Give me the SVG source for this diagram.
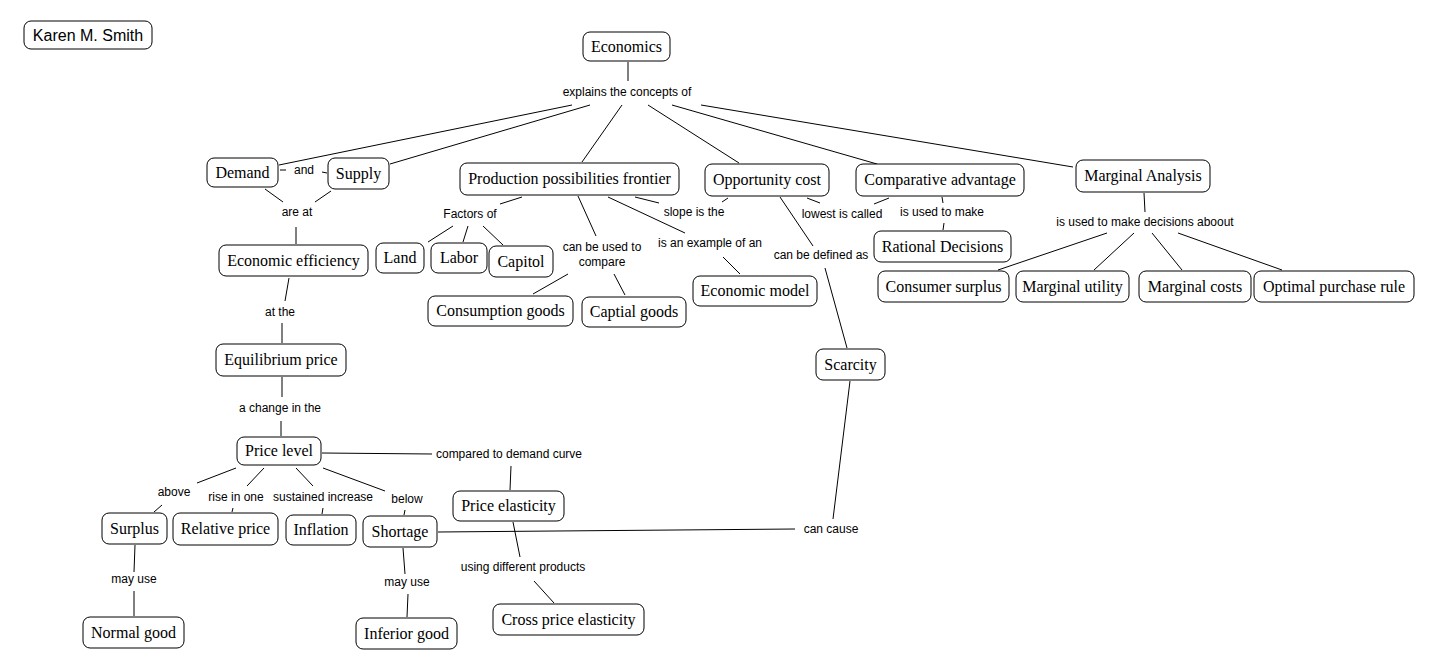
<svg xmlns="http://www.w3.org/2000/svg" width="1434" height="671" viewBox="0 0 1434 671">
<style>
.n rect{fill:#fff;stroke:#000;stroke-width:1}
.n text{font-family:"Liberation Serif","Times New Roman",serif;font-size:16px;text-anchor:middle;fill:#000}
.k text{font-family:"Liberation Sans",Arial,sans-serif;font-size:16px}
.c line{stroke:#000;stroke-width:1}
.c text{font-family:"Liberation Sans",Arial,sans-serif;font-size:12px;text-anchor:middle;fill:#000}
</style>
<rect width="1434" height="671" fill="#fff"/>
<g class="c" id="connectors">
<line x1="628" y1="62" x2="628" y2="81"/>
<text x="627" y="96">explains the concepts of</text>
<line x1="572" y1="105" x2="279" y2="165"/>
<line x1="590" y1="105" x2="390" y2="164"/>
<line x1="622" y1="105" x2="582" y2="162"/>
<line x1="648" y1="105" x2="739" y2="163"/>
<line x1="672" y1="105" x2="877" y2="164"/>
<line x1="701" y1="105" x2="1073" y2="167"/>
<line x1="280" y1="170" x2="286" y2="170"/>
<text x="304" y="174">and</text>
<line x1="322" y1="172" x2="327" y2="173"/>
<line x1="265" y1="189" x2="283" y2="202"/>
<line x1="331" y1="191" x2="315" y2="202"/>
<text x="297" y="216">are at</text>
<line x1="296" y1="227" x2="296" y2="244"/>
<line x1="289" y1="278" x2="285" y2="301"/>
<text x="280" y="316">at the</text>
<line x1="282" y1="323" x2="282" y2="343"/>
<line x1="282" y1="377" x2="282" y2="397"/>
<text x="280" y="412">a change in the</text>
<line x1="281" y1="421" x2="281" y2="436"/>
<line x1="522" y1="197" x2="500" y2="204"/>
<text x="470" y="218">Factors of</text>
<line x1="453" y1="226" x2="428" y2="242"/>
<line x1="468" y1="226" x2="463" y2="242"/>
<line x1="483" y1="226" x2="503" y2="245"/>
<line x1="578" y1="196" x2="596" y2="236"/>
<text x="602" y="251">can be used to</text>
<text x="602" y="266">compare</text>
<line x1="568" y1="274" x2="533" y2="294"/>
<line x1="614" y1="274" x2="625" y2="295"/>
<line x1="608" y1="197" x2="685" y2="233"/>
<text x="710" y="247">is an example of an</text>
<line x1="723" y1="257" x2="740" y2="274"/>
<line x1="635" y1="197" x2="659" y2="203"/>
<text x="694" y="216">slope is the</text>
<line x1="722" y1="202" x2="728" y2="198"/>
<line x1="807" y1="198" x2="820" y2="203"/>
<text x="842" y="218">lowest is called</text>
<line x1="874" y1="204" x2="889" y2="198"/>
<line x1="780" y1="197" x2="813" y2="246"/>
<text x="821" y="259">can be defined as</text>
<line x1="825" y1="268" x2="847" y2="348"/>
<line x1="942" y1="197" x2="943" y2="203"/>
<text x="942" y="216">is used to make</text>
<line x1="944" y1="223" x2="943" y2="230"/>
<line x1="1144" y1="193" x2="1145" y2="212"/>
<text x="1145" y="226">is used to make decisions aboout</text>
<line x1="1107" y1="233" x2="998" y2="270"/>
<line x1="1134" y1="233" x2="1094" y2="270"/>
<line x1="1152" y1="233" x2="1182" y2="270"/>
<line x1="1178" y1="233" x2="1282" y2="270"/>
<line x1="322" y1="453" x2="432" y2="454"/>
<text x="509" y="458">compared to demand curve</text>
<line x1="511" y1="466" x2="510" y2="490"/>
<line x1="513" y1="522" x2="520" y2="557"/>
<text x="523" y="571">using different products</text>
<line x1="534" y1="581" x2="554" y2="603"/>
<line x1="236" y1="468" x2="197" y2="483"/>
<text x="174" y="496">above</text>
<line x1="162" y1="505" x2="154" y2="512"/>
<line x1="264" y1="468" x2="247" y2="486"/>
<text x="236" y="501">rise in one</text>
<line x1="233" y1="508" x2="232" y2="512"/>
<line x1="296" y1="468" x2="313" y2="486"/>
<text x="323" y="501">sustained increase</text>
<line x1="323" y1="508" x2="322" y2="514"/>
<line x1="323" y1="468" x2="385" y2="491"/>
<text x="407" y="503">below</text>
<line x1="405" y1="510" x2="404" y2="515"/>
<line x1="438" y1="532" x2="795" y2="529"/>
<text x="831" y="533">can cause</text>
<line x1="850" y1="381" x2="833" y2="519"/>
<line x1="135" y1="545" x2="134" y2="572"/>
<text x="134" y="583">may use</text>
<line x1="134" y1="591" x2="134" y2="616"/>
<line x1="403" y1="548" x2="405" y2="574"/>
<text x="407" y="586">may use</text>
<line x1="408" y1="594" x2="407" y2="617"/>
</g>
<g class="n k" id="karen"><rect x="24" y="21" width="128" height="28" rx="7"/><text x="88" y="41">Karen M. Smith</text></g>
<g class="n" id="economics"><rect x="583" y="32" width="87" height="29" rx="7"/><text x="626.5" y="51.5">Economics</text></g>
<g class="n" id="demand"><rect x="207" y="158" width="71" height="29" rx="7"/><text x="242.5" y="177.5">Demand</text></g>
<g class="n" id="supply"><rect x="328" y="158" width="61" height="31" rx="7"/><text x="358.5" y="178.5">Supply</text></g>
<g class="n" id="ppf"><rect x="460" y="163" width="219" height="32" rx="7"/><text x="569.5" y="184">Production possibilities frontier</text></g>
<g class="n" id="oppcost"><rect x="705" y="164" width="124" height="32" rx="7"/><text x="767" y="185">Opportunity cost</text></g>
<g class="n" id="compadv"><rect x="856" y="164" width="168" height="32" rx="7"/><text x="940" y="185">Comparative advantage</text></g>
<g class="n" id="marginal"><rect x="1076" y="160" width="134" height="32" rx="7"/><text x="1143" y="181">Marginal Analysis</text></g>
<g class="n" id="econeff"><rect x="219" y="245" width="149" height="31" rx="7"/><text x="293.5" y="265.5">Economic efficiency</text></g>
<g class="n" id="land"><rect x="376" y="243" width="48" height="30" rx="7"/><text x="400" y="263">Land</text></g>
<g class="n" id="labor"><rect x="431" y="243" width="56" height="30" rx="7"/><text x="459" y="263">Labor</text></g>
<g class="n" id="capitol"><rect x="489" y="246" width="64" height="31" rx="7"/><text x="521" y="266.5">Capitol</text></g>
<g class="n" id="rational"><rect x="874" y="231" width="137" height="31" rx="7"/><text x="942.5" y="251.5">Rational Decisions</text></g>
<g class="n" id="consumer"><rect x="878" y="271" width="131" height="31" rx="7"/><text x="943.5" y="291.5">Consumer surplus</text></g>
<g class="n" id="mutility"><rect x="1016" y="271" width="113" height="31" rx="7"/><text x="1072.5" y="291.5">Marginal utility</text></g>
<g class="n" id="mcosts"><rect x="1139" y="271" width="112" height="31" rx="7"/><text x="1195" y="291.5">Marginal costs</text></g>
<g class="n" id="optimal"><rect x="1254" y="271" width="160" height="31" rx="7"/><text x="1334" y="291.5">Optimal purchase rule</text></g>
<g class="n" id="consumption"><rect x="428" y="296" width="145" height="30" rx="7"/><text x="500.5" y="316">Consumption goods</text></g>
<g class="n" id="captial"><rect x="582" y="297" width="104" height="30" rx="7"/><text x="634" y="317">Captial goods</text></g>
<g class="n" id="econmodel"><rect x="693" y="276" width="124" height="30" rx="7"/><text x="755" y="296">Economic model</text></g>
<g class="n" id="scarcity"><rect x="816" y="349" width="69" height="31" rx="7"/><text x="850.5" y="369.5">Scarcity</text></g>
<g class="n" id="eqprice"><rect x="216" y="344" width="130" height="32" rx="7"/><text x="281" y="365">Equilibrium price</text></g>
<g class="n" id="pricelevel"><rect x="237" y="437" width="84" height="28" rx="7"/><text x="279" y="456">Price level</text></g>
<g class="n" id="priceelast"><rect x="453" y="491" width="111" height="30" rx="7"/><text x="508.5" y="511">Price elasticity</text></g>
<g class="n" id="surplus"><rect x="102" y="513" width="65" height="31" rx="7"/><text x="134.5" y="533.5">Surplus</text></g>
<g class="n" id="relprice"><rect x="173" y="513" width="105" height="32" rx="7"/><text x="225.5" y="534">Relative price</text></g>
<g class="n" id="inflation"><rect x="286" y="515" width="70" height="30" rx="7"/><text x="321" y="535">Inflation</text></g>
<g class="n" id="shortage"><rect x="363" y="516" width="74" height="31" rx="7"/><text x="400" y="536.5">Shortage</text></g>
<g class="n" id="normal"><rect x="83" y="617" width="101" height="31" rx="7"/><text x="133.5" y="637.5">Normal good</text></g>
<g class="n" id="inferior"><rect x="356" y="618" width="101" height="31" rx="7"/><text x="406.5" y="638.5">Inferior good</text></g>
<g class="n" id="crossprice"><rect x="493" y="604" width="151" height="31" rx="7"/><text x="568.5" y="624.5">Cross price elasticity</text></g>
</svg>
